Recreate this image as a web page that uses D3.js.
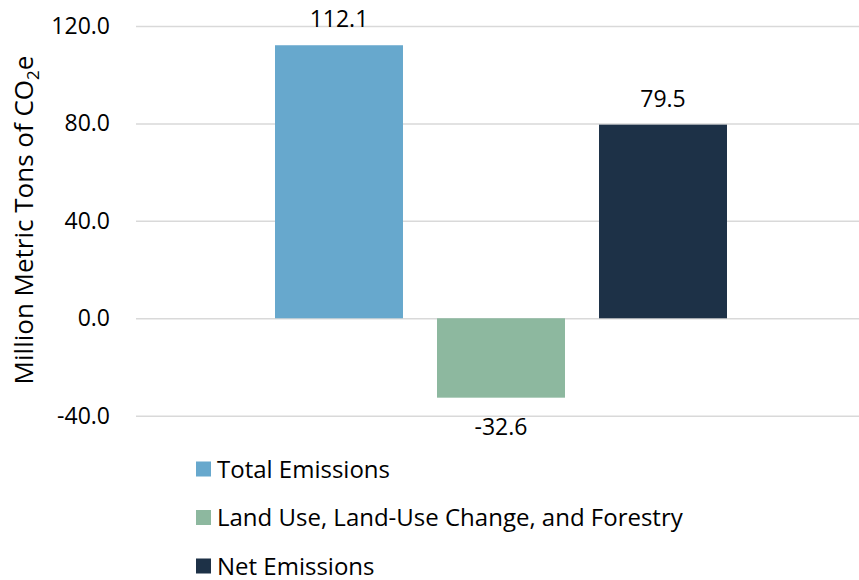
<!DOCTYPE html>
<html>
<head>
<meta charset="utf-8">
<script src="https://cdn.jsdelivr.net/npm/d3@7"></script>
<style>
  html, body { margin: 0; padding: 0; background: #fff; }
  svg text { font-family: "Open Sans", "Noto Sans", sans-serif; fill: #000; }
</style>
</head>
<body>
<svg id="chart" width="859" height="580"></svg>
<script>
// Emissions balance: gross emissions, LULUCF sink, net emissions
const seriesNames = ["Total Emissions", "Land Use, Land-Use Change, and Forestry", "Net Emissions"];
const seriesValues = [112.1, -32.6, 79.5];
const seriesColors = ["#67a8cd", "#8db89f", "#1d3147"];
const tickValues = [-40, 0, 40, 80, 120];

const svg = d3.select("#chart");
const W = 859;

// one decimal, plain hyphen for negatives
const fmt = v => d3.format(".1f")(v).replace("\u2212", "-");

const y = d3.scaleLinear().domain([-40, 120]).range([415.7, 26]);
const x = d3.scaleBand().domain(seriesNames).range([275, 727]).paddingInner(0.21).paddingOuter(0);

// horizontal gridlines + tick labels
const yAxis = d3.axisLeft(y)
  .tickValues(tickValues)
  .tickFormat(fmt)
  .tickSize(-(W - 136))
  .tickPadding(26);

const gAxis = svg.append("g")
  .attr("transform", "translate(136,0)")
  .call(yAxis);
gAxis.select(".domain").remove();
gAxis.selectAll(".tick line").attr("stroke", "#d9d9d9").attr("stroke-width", 1.5);
gAxis.selectAll(".tick text")
  .attr("font-size", 23)
  .attr("fill", "#000")
  .style("font-family", "'Open Sans', sans-serif");

// bars
svg.append("g").selectAll("rect")
  .data(seriesNames)
  .join("rect")
  .attr("x", d => x(d))
  .attr("width", x.bandwidth())
  .attr("y", (d, i) => y(Math.max(0, seriesValues[i])))
  .attr("height", (d, i) => Math.abs(y(seriesValues[i]) - y(0)))
  .attr("fill", (d, i) => seriesColors[i]);

// value labels
svg.append("g").selectAll("text")
  .data(seriesNames)
  .join("text")
  .attr("x", d => x(d) + x.bandwidth() / 2)
  .attr("y", (d, i) => seriesValues[i] >= 0 ? y(seriesValues[i]) - 18 : y(seriesValues[i]) + 37)
  .attr("text-anchor", "middle")
  .attr("font-size", 23)
  .text((d, i) => fmt(seriesValues[i]));

// y-axis title with subscript
const title = svg.append("text")
  .attr("transform", "translate(33,220) rotate(-90)")
  .attr("text-anchor", "middle")
  .attr("font-size", 26);
title.append("tspan").text("Million Metric Tons of CO");
title.append("tspan").attr("font-size", 17).attr("dy", 6).text("2");
title.append("tspan").attr("dy", -6).text("e");

// legend
const legend = svg.append("g").selectAll("g")
  .data(seriesNames)
  .join("g")
  .attr("transform", (d, i) => `translate(196,${469 + i * 48.5})`);
legend.append("rect")
  .attr("x", 0).attr("y", -7.5)
  .attr("width", 15).attr("height", 15)
  .attr("fill", (d, i) => seriesColors[i]);
legend.append("text")
  .attr("x", 21)
  .attr("y", 8.5)
  .attr("font-size", 24)
  .text(d => d);
</script>
</body>
</html>
